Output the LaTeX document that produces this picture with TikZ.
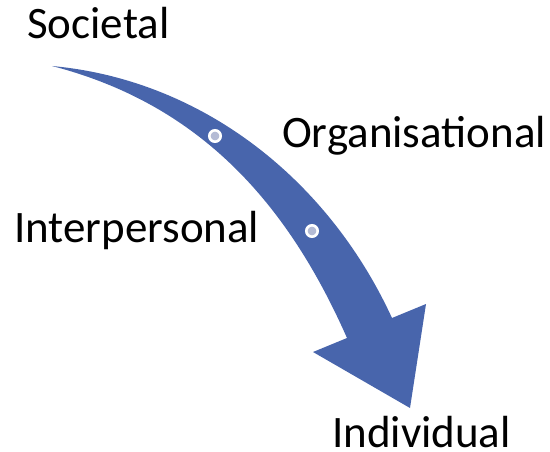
\documentclass[tikz,border=0pt]{standalone}
\usepackage{fontspec}
\setmainfont{Carlito}
\definecolor{arrowblue}{RGB}{72,101,172}
\definecolor{dotfill}{RGB}{180,187,213}
\begin{document}
\begin{tikzpicture}[x=1pt,y=-1pt,
  lbl/.style={anchor=base west,inner sep=0pt,font=\fontsize{45}{51}\selectfont},
  dot/.style={circle,fill=dotfill,draw=white,line width=2.6pt,minimum size=11.4pt,inner sep=0pt},
  bigarrow/.style={fill=arrowblue}]
\useasboundingbox (0,0) rectangle (550,452);
\fill[bigarrow] (52,66) .. controls (204,80) and (329,181) .. (392,318)
  -- (426,304) -- (410,408) -- (313,352) -- (347,338)
  .. controls (287,202) and (199,104) .. (52,66) -- cycle;
\node[dot] (d1) at (215,136) {};
\node[dot] (d2) at (312,231) {};
\node[lbl] (societal) at (27,38.5) {Societal};
\node[lbl] (organisational) at (282,148) {Organisational};
\node[lbl] (interpersonal) at (14,242.5) {Interpersonal};
\node[lbl] (individual) at (332,447) {Individual};
\end{tikzpicture}
\end{document}
